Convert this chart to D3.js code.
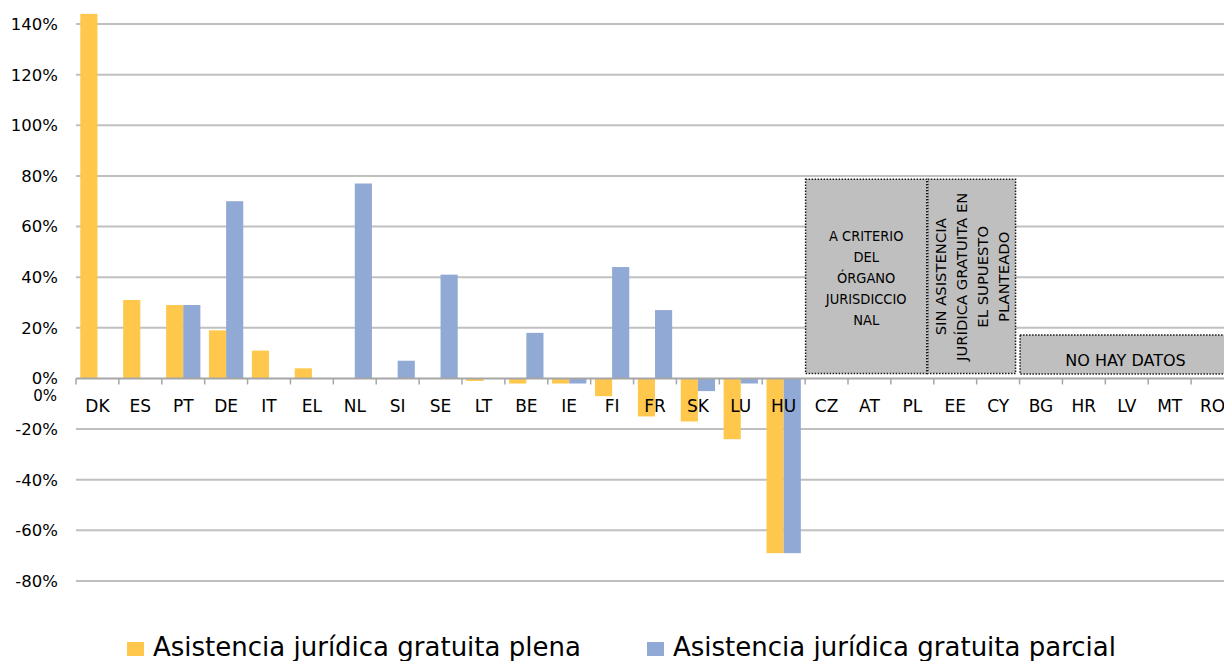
<!DOCTYPE html>
<html>
<head>
<meta charset="utf-8">
<script src="https://cdn.jsdelivr.net/npm/d3@7"></script>
<style>
  body { margin: 0; background: #fff; overflow: hidden; }
  svg { display: block; font-family: "DejaVu Sans", Verdana, sans-serif; }
</style>
</head>
<body>
<script>
// data (percent)
var countries = ["DK","ES","PT","DE","IT","EL","NL","SI","SE","LT","BE","IE","FI","FR","SK","LU","HU",
                 "CZ","AT","PL","EE","CY","BG","HR","LV","MT","RO"];
var plena   = [144, 31, 29, 19, 11, 4, null, null, null, -1, -2, -2, -7, -15, -17, -24, -69,
               null, null, null, null, null, null, null, null, null, null];
var parcial = [null, null, 29, 70, null, null, 77, 7, 41, null, 18, -2, 44, 27, -5, -2, -69,
               null, null, null, null, null, null, null, null, null, null];
var seriesNames = ["Asistencia jurídica gratuita plena", "Asistencia jurídica gratuita parcial"];
var yTicks = [-80, -60, -40, -20, 0, 20, 40, 60, 80, 100, 120, 140];

// grey note boxes over the countries with no figure
var noteFrom  = ["CZ", "EE", "BG"];
var noteTo    = ["PL", "CY", "RO"];
var noteTop   = [78.7, 78.7, 17.2];
var noteBot   = [2, 2, 1.8];
var noteLines = [
  ["A CRITERIO", "DEL", "ÓRGANO", "JURISDICCIO", "NAL"],
  ["SIN ASISTENCIA", "JURÍDICA GRATUITA EN", "EL SUPUESTO", "PLANTEADO"],
  ["NO HAY DATOS"]
];

var width = 1224, height = 661;
var colors = ["#ffc84d", "#91a9d5"];

var svg = d3.select("body").append("svg")
    .attr("width", width)
    .attr("height", height);

var x0 = d3.scaleBand().domain(countries).range([76, 1234]).padding(0);
var x1 = d3.scaleBand().domain([0, 1])
    .range([x0.bandwidth() * 0.1, x0.bandwidth() * 0.9]);
var y = d3.scaleLinear().domain([-80, 140]).range([581, 24]);

// gridlines
svg.append("g")
    .selectAll("line")
    .data(yTicks.filter(function(d) { return d !== 0; }))
    .enter()
    .append("line")
    .attr("x1", 76)
    .attr("x2", width)
    .attr("y1", function(d) { return y(d); })
    .attr("y2", function(d) { return y(d); })
    .attr("stroke", "#c0c0c0")
    .attr("stroke-width", 2);

// y labels
svg.append("g")
    .selectAll("text")
    .data(yTicks)
    .enter()
    .append("text")
    .attr("x", 58)
    .attr("y", function(d) { return y(d); })
    .attr("dy", "0.36em")
    .attr("text-anchor", "end")
    .attr("font-size", "16.5px")
    .attr("fill", "#000")
    .text(function(d) { return d + "%"; });

// stray second 0% label under the first one
svg.append("text")
    .attr("x", 57)
    .attr("y", y(0) + 23)
    .attr("text-anchor", "end")
    .attr("font-size", "15px")
    .text("0%");

// note boxes
var notes = noteFrom.map(function(f, i) {
  return {from: f, to: noteTo[i], top: noteTop[i], bot: noteBot[i], lines: noteLines[i], idx: i};
});
var bw = x0.bandwidth();
function noteX(d) {
  if (d.idx === 1) return x0(d.from) - 6;
  return x0(d.from) + 0.5;
}
function noteX2(d) {
  if (d.idx === 0) return x0(d.to) + bw - 7;
  if (d.idx === 1) return x0(d.to) + bw - 4;
  return x0(d.to) + bw;
}

var noteG = svg.append("g")
    .selectAll("g")
    .data(notes)
    .enter()
    .append("g");

noteG.append("rect")
    .attr("x", function(d) { return noteX(d); })
    .attr("y", function(d) { return y(d.top); })
    .attr("width", function(d) { return noteX2(d) - noteX(d); })
    .attr("height", function(d) { return y(d.bot) - y(d.top); })
    .attr("fill", "#bfbfbf")
    .attr("stroke", "#1a1a1a")
    .attr("stroke-width", 1.5)
    .attr("stroke-dasharray", "1.5,1.5");

// box 1: horizontal lines
noteG.filter(function(d) { return d.idx === 0; })
    .each(function(d) {
      var g = d3.select(this);
      var cx = (noteX(d) + noteX2(d)) / 2;
      var cy = (y(d.top) + y(d.bot)) / 2 + 1.5;
      var n = d.lines.length;
      g.selectAll("text")
        .data(d.lines)
        .enter()
        .append("text")
        .attr("x", cx)
        .attr("y", function(t, i) { return cy + (i - (n - 1) / 2) * 21; })
        .attr("dy", "0.36em")
        .attr("text-anchor", "middle")
        .attr("font-family", "'DejaVu Sans Condensed', 'DejaVu Sans', sans-serif")
        .attr("font-size", "14.5px")
        .text(function(t) { return t; });
    });

// box 2: rotated lines
noteG.filter(function(d) { return d.idx === 1; })
    .each(function(d) {
      var g = d3.select(this);
      var cx = (noteX(d) + noteX2(d)) / 2 + 1;
      var cy = (y(d.top) + y(d.bot)) / 2 + 0.5;
      var n = d.lines.length;
      g.selectAll("text")
        .data(d.lines)
        .enter()
        .append("text")
        .attr("transform", function(t, i) {
          return "translate(" + (cx + (i - (n - 1) / 2) * 21) + "," + cy + ") rotate(-90)";
        })
        .attr("dy", "0.36em")
        .attr("text-anchor", "middle")
        .attr("font-size", "14.8px")
        .text(function(t) { return t; });
    });

// box 3
noteG.filter(function(d) { return d.idx === 2; })
    .append("text")
    .attr("x", 1125.5)
    .attr("y", function(d) { return (y(d.top) + y(d.bot)) / 2 + 6; })
    .attr("dy", "0.36em")
    .attr("text-anchor", "middle")
    .attr("font-size", "16px")
    .text(function(d) { return d.lines[0]; });

// bars
var barData = [];
countries.forEach(function(c, i) {
  [plena[i], parcial[i]].forEach(function(v, s) {
    if (v !== null) barData.push({country: c, s: s, value: v});
  });
});

svg.append("g")
    .selectAll("rect")
    .data(barData)
    .enter()
    .append("rect")
    .attr("x", function(d) { return x0(d.country) + x1(d.s); })
    .attr("width", x1.bandwidth())
    .attr("y", function(d) { return y(Math.max(0, d.value)); })
    .attr("height", function(d) { return Math.abs(y(d.value) - y(0)); })
    .attr("fill", function(d) { return colors[d.s]; });

// zero axis + ticks
svg.append("line")
    .attr("x1", 76)
    .attr("x2", width)
    .attr("y1", y(0))
    .attr("y2", y(0))
    .attr("stroke", "#a6a6a6")
    .attr("stroke-width", 2);

svg.append("g")
    .selectAll("line")
    .data(countries.concat(["end"]))
    .enter()
    .append("line")
    .attr("x1", function(d, i) { return 76 + i * bw; })
    .attr("x2", function(d, i) { return 76 + i * bw; })
    .attr("y1", y(0))
    .attr("y2", y(0) + 6)
    .attr("stroke", "#a6a6a6")
    .attr("stroke-width", 1.5);

// category labels
svg.append("g")
    .selectAll("text")
    .data(countries)
    .enter()
    .append("text")
    .attr("x", function(d) { return x0(d) + bw / 2; })
    .attr("y", 412)
    .attr("text-anchor", "middle")
    .attr("font-size", "17px")
    .attr("fill", "#000")
    .text(function(d) { return d; });

// legend
var legX = [127, 647];
var legend = svg.append("g")
    .selectAll("g")
    .data(seriesNames)
    .enter()
    .append("g")
    .attr("transform", function(d, i) { return "translate(" + legX[i] + ",0)"; });

legend.append("rect")
    .attr("x", 0)
    .attr("y", 642)
    .attr("width", 17)
    .attr("height", 14)
    .attr("fill", function(d, i) { return colors[i]; });

legend.append("text")
    .attr("x", 26)
    .attr("y", 656)
    .attr("font-size", "26px")
    .text(function(d) { return d; });
</script>
</body>
</html>
